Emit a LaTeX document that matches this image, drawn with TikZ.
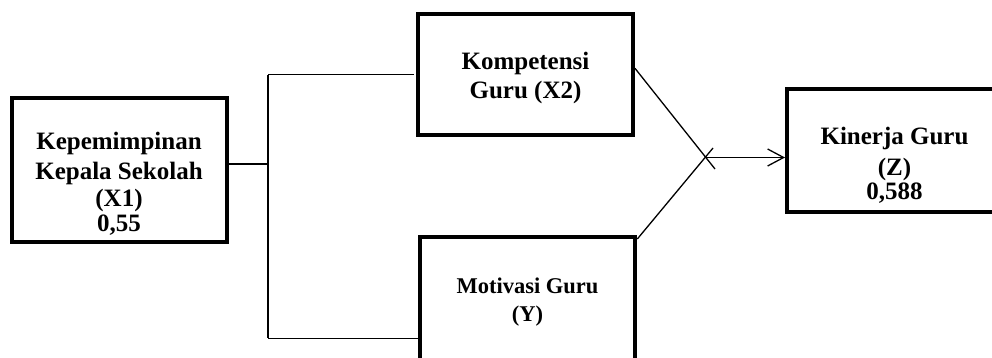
\documentclass[tikz,border=0pt]{standalone}
\usepackage{fontspec}
\setmainfont{Liberation Serif}
\usetikzlibrary{arrows.meta,calc}
\begin{document}
\begin{tikzpicture}[x=1pt,y=-1pt,
  box/.style={draw=black,line width=4pt,inner sep=0pt,fill=none},
  openbox/.style={line width=4pt,inner sep=0pt,outer sep=0pt},
  lbl/.style={anchor=base,inner sep=0pt,font=\fontsize{25}{28}\selectfont\bfseries},
  lbls/.style={anchor=base,inner sep=0pt,font=\fontsize{22.5}{26}\selectfont\bfseries},
  conn/.style={draw=black,line width=1.3pt},
  frame/.style={draw=black,line width=4pt,line join=miter},
  arr/.style={conn,-{Straight Barb[length=16pt,width=17pt]}}]
\useasboundingbox (0,0) rectangle (992,358);
% boxes
\node[box,minimum width=215.3pt,minimum height=143.7pt] (X1) at (119.35,170.15) {};
\node[box,minimum width=215pt,minimum height=120.5pt] (X2) at (525.5,74.75) {};
\node[openbox,minimum width=215.8pt,minimum height=150pt] (Y) at (527.4,312) {};
\node[openbox,minimum width=230pt,minimum height=122pt] (Z) at (902,150.5) {};
\draw[frame] (Y.south west) -- (Y.north west) -- (Y.north east) -- (Y.south east);
\draw[frame] (Z.north east) -- (Z.north west) -- (Z.south west) -- (Z.south east);
% labels
\node[lbl] (t1a) at (119,150) {Kepemimpinan};
\node[lbl] (t1b) at (119,179) {Kepala Sekolah};
\node[lbl] (t1c) at (119,206.7) {(X1)};
\node[lbl] (t1d) at (119,231) {0,55};
\node[lbl] (t2a) at (525.5,70) {Kompetensi};
\node[lbl] (t2b) at (525.5,99) {Guru (X2)};
\node[lbls] (t3a) at (527.5,293.3) {Motivasi Guru};
\node[lbls] (t3b) at (527.5,321.7) {(Y)};
\node[lbl] (t4a) at (894.5,145) {Kinerja Guru};
\node[lbl] (t4b) at (894.5,175.7) {(Z)};
\node[lbl] (t4c) at (894.5,199.3) {0,588};
% junctions
\coordinate (jmid) at (268,164);
\coordinate (jtop) at (268,74.7);
\coordinate (jbot) at (268,338.3);
\coordinate (cross) at (706,157.5);
\coordinate (x2end) at (715,169);
\coordinate (yend) at (713,148);
% connectors
\draw[conn] (jmid -| X1.east) -- (jmid);
\draw[conn] (jtop) -- (jbot);
\draw[conn] (jtop) -- ([xshift=-2pt]jtop -| X2.west);
\draw[conn] (jbot) -- ([xshift=-2pt]jbot -| Y.west);
\draw[conn] ($(X2.east)+(0,-6.4)$) -- (x2end);
\draw[conn] ([xshift=2pt,yshift=-2pt]Y.north east) -- (yend);
\draw[arr] (cross) -- ([xshift=-2pt]cross -| Z.west);
\end{tikzpicture}
\end{document}
